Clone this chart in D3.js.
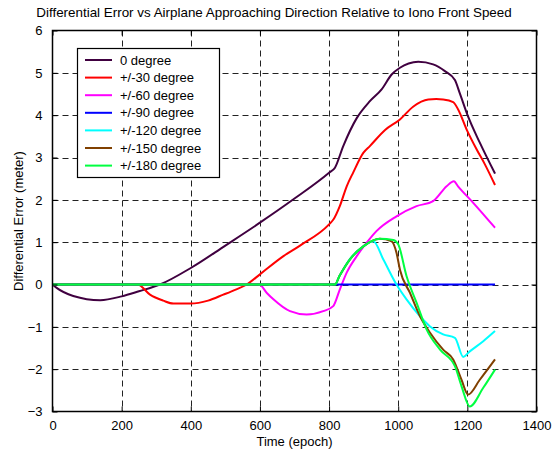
<!DOCTYPE html>
<html>
<head>
<meta charset="utf-8">
<script src="https://cdn.jsdelivr.net/npm/d3@7"></script>
<style>
  body { margin: 0; background: #fff; }
  svg { display: block; font-family: "Liberation Sans", Arial, sans-serif; }
</style>
</head>
<body>
<svg id="chart" width="558" height="453"></svg>
<script>
// Differential error (meter) per airplane approaching direction, sampled in epochs
const titleText = "Differential Error vs Airplane Approaching Direction Relative to Iono Front Speed";
const xLabel = "Time (epoch)";
const yLabel = "Differential Error (meter)";
const xTicks = [0, 200, 400, 600, 800, 1000, 1200, 1400];
const yTicks = [-3, -2, -1, 0, 1, 2, 3, 4, 5, 6];

const seriesNames = ["0 degree", "+/-30 degree", "+/-60 degree", "+/-90 degree",
                     "+/-120 degree", "+/-150 degree", "+/-180 degree"];
const seriesColors = ["#400040", "#ff0000", "#ff00ff", "#0000ff", "#00ffff", "#804000", "#00ff40"];

const epoch0 = [0, 12, 60, 138, 200, 250, 311, 400, 500, 600, 700, 800, 817, 841, 880, 918, 952, 981, 1005, 1030, 1058, 1101, 1135, 1164, 1178, 1202, 1236, 1280];
const err0   = [0, -0.08, -0.27, -0.37, -0.28, -0.16, 0, 0.39, 0.92, 1.46, 2.03, 2.64, 2.76, 3.27, 3.93, 4.33, 4.61, 4.96, 5.12, 5.22, 5.26, 5.2, 5.04, 4.83, 4.52, 3.97, 3.35, 2.62];

const epoch30 = [0, 246, 282, 320, 350, 400, 450, 494, 530, 562, 600, 668, 716, 800, 813, 831, 851, 870, 899, 918, 962, 1005, 1043, 1087, 1110, 1130, 1159, 1173, 1198, 1227, 1250, 1280];
const err30   = [0, 0, -0.24, -0.38, -0.45, -0.45, -0.38, -0.24, -0.12, 0, 0.24, 0.67, 0.92, 1.42, 1.54, 1.85, 2.32, 2.65, 3.11, 3.27, 3.65, 3.9, 4.2, 4.37, 4.38, 4.37, 4.31, 4.14, 3.66, 3.19, 2.85, 2.35];

const epoch60 = [0, 598, 620, 639, 687, 735, 783, 812, 831, 851, 880, 910, 937, 995, 1053, 1101, 1140, 1161, 1173, 1217, 1280];
const err60   = [0, 0, -0.2, -0.35, -0.63, -0.71, -0.63, -0.51, -0.12, 0.28, 0.67, 1.0, 1.26, 1.61, 1.85, 1.97, 2.32, 2.44, 2.32, 1.93, 1.34];

const epoch90 = [0, 1280];
const err90   = [0, 0];

const epoch120 = [0, 817, 830, 860, 899, 928, 957, 995, 1024, 1063, 1092, 1130, 1164, 1188, 1207, 1246, 1280];
const err120   = [0, 0, 0.2, 0.6, 0.9, 1.02, 0.59, 0, -0.35, -0.75, -0.99, -1.18, -1.26, -1.71, -1.58, -1.34, -1.1];

const epoch150 = [0, 817, 830, 860, 899, 947, 981, 995, 1005, 1034, 1063, 1092, 1130, 1159, 1183, 1202, 1236, 1280];
const err150   = [0, 0, 0.2, 0.59, 0.9, 1.08, 1.02, 0.75, 0.35, -0.2, -0.75, -1.14, -1.54, -1.77, -2.25, -2.6, -2.25, -1.77];

const epoch180 = [0, 817, 830, 860, 899, 947, 986, 1000, 1024, 1053, 1082, 1121, 1164, 1183, 1207, 1246, 1280];
const err180   = [0, 0, 0.2, 0.59, 0.9, 1.08, 1.05, 0.95, 0.2, -0.43, -1.06, -1.54, -1.93, -2.4, -2.88, -2.44, -2.01];

const epochs = [epoch0, epoch30, epoch60, epoch90, epoch120, epoch150, epoch180];
const errors = [err0, err30, err60, err90, err120, err150, err180];

const svg = d3.select("#chart");
const plot = { left: 52.5, right: 536.5, top: 30.5, bottom: 411.5 };

const x = d3.scaleLinear().domain([0, 1400]).range([plot.left, plot.right]);
const y = d3.scaleLinear().domain([-3, 6]).range([plot.bottom, plot.top]);

// dashed grid
const grid = svg.append("g").attr("stroke", "#222").attr("stroke-width", 1).attr("stroke-dasharray", "6,4");
xTicks.slice(1, -1).forEach(t => {
  grid.append("line").attr("x1", Math.round(x(t)) + 0.5).attr("x2", Math.round(x(t)) + 0.5)
    .attr("y1", plot.top).attr("y2", plot.bottom);
});
yTicks.slice(1, -1).forEach(t => {
  grid.append("line").attr("y1", Math.round(y(t)) + 0.5).attr("y2", Math.round(y(t)) + 0.5)
    .attr("x1", plot.left).attr("x2", plot.right);
});

// series
const line = d3.line().x(d => x(d[0])).y(d => y(d[1])).curve(d3.curveMonotoneX);
seriesNames.forEach((name, i) => {
  const pts = epochs[i].map((e, j) => [e, errors[i][j]]);
  svg.append("path").datum(pts)
    .attr("d", line)
    .attr("fill", "none")
    .attr("stroke", seriesColors[i])
    .attr("stroke-width", 2)
    .attr("stroke-linejoin", "round");
});

// axes with inward ticks on all four sides
const tickLen = 5;
const fmt = d3.format("d");
const axisStyle = g => {
  g.select(".domain").remove();
  g.selectAll(".tick line").attr("stroke", "#000");
  g.selectAll(".tick text").attr("fill", "#000").style("font-size", "13px")
    .style("font-family", "'Liberation Sans', Arial, sans-serif");
};
svg.append("g").attr("transform", `translate(0,${plot.bottom})`)
  .call(d3.axisBottom(x).tickValues(xTicks).tickFormat(fmt).tickSizeInner(-tickLen).tickSizeOuter(0).tickPadding(9))
  .call(axisStyle);
svg.append("g").attr("transform", `translate(0,${plot.top})`)
  .call(d3.axisTop(x).tickValues(xTicks).tickSizeInner(-tickLen).tickSizeOuter(0).tickFormat(""))
  .call(axisStyle);
svg.append("g").attr("transform", `translate(${plot.left},0)`)
  .call(d3.axisLeft(y).tickValues(yTicks).tickFormat(fmt).tickSizeInner(-tickLen).tickSizeOuter(0).tickPadding(10))
  .call(axisStyle);
svg.append("g").attr("transform", `translate(${plot.right},0)`)
  .call(d3.axisRight(y).tickValues(yTicks).tickSizeInner(-tickLen).tickSizeOuter(0).tickFormat(""))
  .call(axisStyle);

// frame
svg.append("rect").attr("x", plot.left).attr("y", plot.top)
  .attr("width", plot.right - plot.left).attr("height", plot.bottom - plot.top)
  .attr("fill", "none").attr("stroke", "#000").attr("stroke-width", 1.5);

// labels
svg.append("text").attr("x", 274).attr("y", 17).attr("text-anchor", "middle")
  .style("font-size", "13.4px").text(titleText);
svg.append("text").attr("x", (plot.left + plot.right) / 2).attr("y", 446).attr("text-anchor", "middle")
  .style("font-size", "13px").text(xLabel);
svg.append("text").attr("transform", `translate(23,${(plot.top + plot.bottom) / 2}) rotate(-90)`)
  .attr("text-anchor", "middle").style("font-size", "13px").text(yLabel);

// legend
const legend = svg.append("g");
legend.append("rect").attr("x", 77.5).attr("y", 48.5).attr("width", 142).attr("height", 129)
  .attr("fill", "#fff").attr("stroke", "#000").attr("stroke-width", 1.2);
seriesNames.forEach((name, i) => {
  const ly = 60 + i * 17.6;
  legend.append("line").attr("x1", 85).attr("x2", 112).attr("y1", ly).attr("y2", ly)
    .attr("stroke", seriesColors[i]).attr("stroke-width", 2);
  legend.append("text").attr("x", 120).attr("y", ly + 4.5).style("font-size", "13px").text(name);
});
</script>
</body>
</html>
